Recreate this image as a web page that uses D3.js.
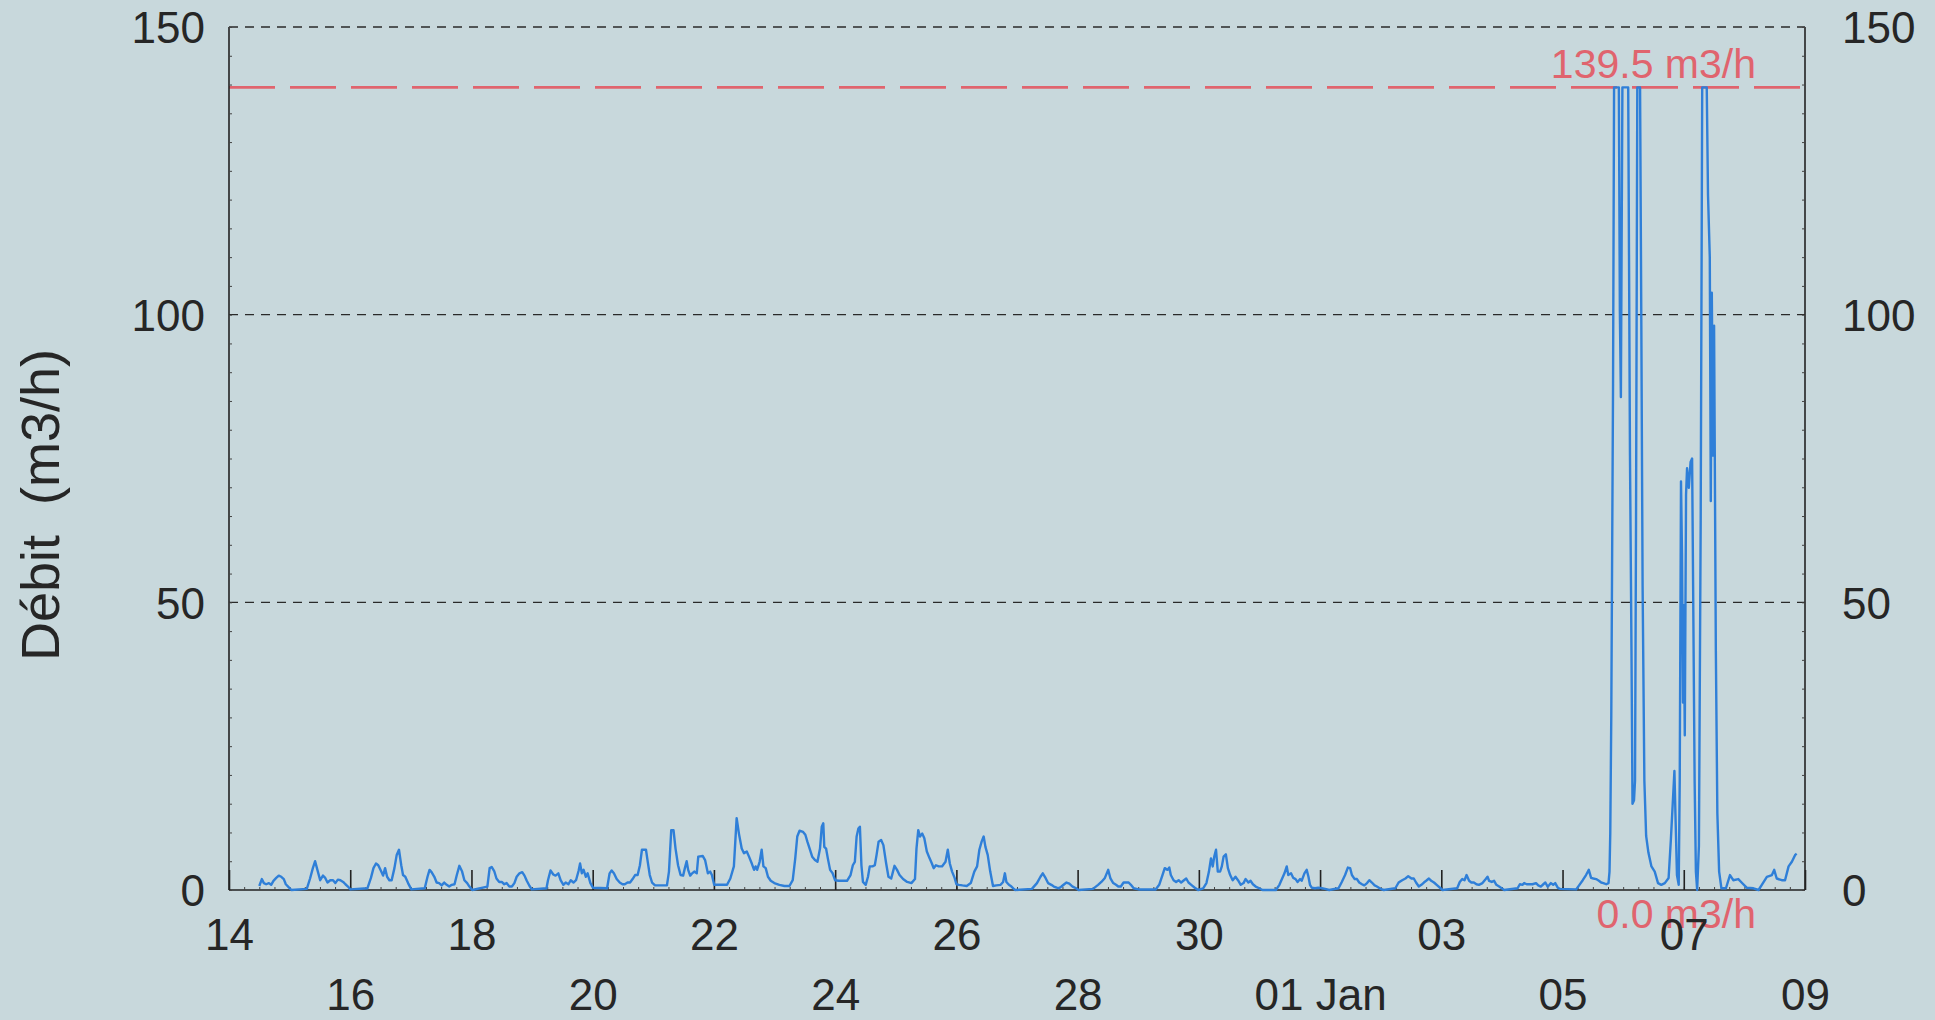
<!DOCTYPE html>
<html><head><meta charset="utf-8">
<script src="https://cdn.jsdelivr.net/npm/d3@7"></script>
<style>html,body{margin:0;padding:0;background:#c8d8dc;} svg{display:block;}</style>
</head><body><svg id="chart" width="1935" height="1020"></svg>
<script>
// ---------- DATA (hours since 14 Dec 00:00, flow in m3/h) ----------
const flowDec14to21 = [
[12.0,0.7],[13.0,1.9],[13.8,1.2],[14.7,1.0],[15.8,1.2],[16.7,0.9],[17.6,1.6],[18.7,2.1],[19.7,2.5],[20.7,2.3],[21.7,1.9],[22.5,1.0],[23.4,0.6],[24.7,0],
[30.8,0.2],[32.1,2.0],[33.2,3.8],[34.1,5.0],[35.0,3.5],[36.1,1.7],[37.2,2.5],[38.1,2.1],[39.0,1.3],[40.1,1.7],[41.2,1.7],[42.1,1.2],[43.1,1.8],[44.1,1.7],[45.2,1.4],[46.1,1.0],[47.1,0.6],[48.1,0.1],
[54.8,0.3],[56.2,2.1],[57.2,3.8],[58.2,4.6],[59.1,4.3],[60.2,3.3],[61.0,2.5],[61.8,3.8],[62.6,2.3],[63.5,1.7],[64.4,1.7],[65.5,3.8],[66.4,6.1],[67.3,7.0],[68.2,4.3],[68.9,2.6],[69.8,2.3],[70.9,1.2],[72.2,0.1],
[77.5,0.3],[78.6,2.3],[79.4,3.5],[80.2,3.1],[81.3,2.3],[82.2,1.3],[83.2,1.2],[84.2,0.8],[85.2,1.3],[86.2,0.9],[87.2,0.6],[88.2,0.9],[89.3,1.0],[90.2,2.6],[91.2,4.2],[92.3,3.2],[93.2,1.7],[94.3,1.2],[95.2,0.6],[96.3,0],
[102.3,0.6],[103.2,3.8],[104.0,4.0],[105.0,3.3],[105.9,2.0],[107.0,1.4],[108.0,1.4],[109.0,1.0],[109.9,1.2],[111.0,0.6],[112.0,0.6],[113.0,1.2],[113.9,2.3],[115.0,2.9],[116.1,3.1],[117.0,2.5],[117.9,1.6],[119.0,0.7],[119.9,0.1],
[125.7,0.3],[126.3,1.7],[127.3,3.4],[128.4,2.7],[129.3,2.5],[130.4,2.9],[131.3,1.7],[132.4,0.9],[133.3,1.3],[134.4,1.0],[135.3,1.7],[136.4,1.3],[137.4,1.7],[138.4,3.3],[139.0,4.6],[139.7,2.9],[140.4,3.5],[141.3,2.3],[142.0,2.9],[143.1,1.2],[144.1,0.4],
[149.7,0.3],[150.7,2.9],[151.5,3.4],[152.4,2.9],[153.5,1.9],[154.7,1.3],[155.8,1.0],[156.7,1.0],[157.8,1.3],[158.8,1.3],[159.8,1.9],[160.8,2.6],[161.8,2.6],[162.7,4.3],[163.5,7.0],[165.1,7.0],[165.8,4.9],[166.6,2.6],[167.5,1.3],[168.7,0.8],[171.8,0.8],[173.4,0.8],[174.2,3.2],[175.1,10.4],[176.0,10.4],[176.8,7.2],[177.8,4.3],[178.8,2.6],[179.8,2.5],[180.5,3.8],[181.2,5.0],[181.8,3.5],[182.6,2.5],[183.4,2.9],[184.2,3.2],[185.2,2.9],[185.8,5.8],[187.6,5.9],[188.5,5.2],[189.6,2.9],[190.5,3.2],[191.2,2.6],[192.1,0.9],[195.2,0.9]
];
const flowDec22to31 = [
[197.2,0.9],[198.5,2.0],[199.9,4.1],[201.0,12.5],[201.9,9.8],[203.0,7.2],[203.9,6.4],[205.0,6.7],[205.9,5.8],[207.0,4.6],[207.9,3.5],[208.5,4.1],[209.1,3.5],[210.1,4.9],[210.9,7.0],[211.6,4.1],[212.5,3.8],[213.4,2.3],[214.5,1.6],[215.9,1.2],[217.9,0.9],[219.9,0.7],[221.9,0.7],[223.2,1.7],[224.2,5.5],[225.0,9.3],[225.9,10.3],[227.3,10.1],[228.2,9.6],[229.0,8.4],[229.9,7.2],[230.9,5.8],[232.0,5.2],[233.0,4.9],[234.0,7.2],[234.7,11.0],[235.3,11.6],[235.7,7.5],[236.4,7.2],[237.1,5.5],[238.0,3.5],[239.0,2.9],[240.0,1.7],[241.4,1.6],[243.4,1.6],[244.7,1.6],[246.1,2.6],[247.0,4.3],[247.8,4.9],[248.5,9.3],[249.2,10.7],[249.8,11.0],[250.4,4.3],[251.0,1.4],[252.1,0.9],[253.0,2.3],[253.7,4.1],[254.8,4.1],[255.7,4.3],[256.4,6.1],[257.2,8.4],[258.2,8.7],[259.1,7.8],[260.2,4.6],[261.1,2.3],[262.2,2.0],[262.9,3.2],[263.5,4.2],[264.5,3.5],[265.5,2.6],[266.9,1.9],[268.5,1.4],[270.2,1.2],[271.6,1.9],[272.2,7.2],[272.9,10.4],[273.6,9.3],[274.5,9.8],[275.3,9.0],[276.3,6.7],[277.4,5.5],[278.3,4.6],[279.0,3.8],[279.9,4.3],[281.0,4.1],[282.3,4.1],[283.7,4.9],[284.6,7.0],[285.4,4.6],[286.3,3.2],[287.3,2.1],[288.0,1.0],[289.0,0.9],[290.4,0.8],[292.1,0.7],[293.7,1.2],[295.1,3.2],[296.2,4.1],[297.1,7.0],[298.0,8.4],[298.8,9.3],[299.5,7.5],[300.4,6.1],[301.4,3.2],[302.5,0.7],[303.8,0.8],[305.5,0.9],[306.5,1.4],[307.2,2.9],[307.8,1.4],[308.8,0.9],[309.8,0.6],[311.2,0],
[317.9,0.2],[319.9,1.2],[321.3,2.3],[322.2,2.9],[323.3,2.1],[324.3,1.2],[325.6,0.9],[326.6,0.6],[327.7,0.4],[328.6,0.3],[329.6,0.6],[330.7,1.0],[331.6,1.3],[332.7,1.1],[334.0,0.6],[335.4,0.3],[336.4,0],
[342.1,0.2],[344.1,0.9],[345.4,1.4],[346.8,2.1],[348.1,3.5],[349.0,2.0],[350.1,1.2],[351.2,0.9],[352.1,0.6],[353.1,0.6],[354.2,1.3],[355.1,1.3],[356.2,1.3],[357.1,0.9],[358.2,0.3],[360.2,0.1],
[366.9,0.1],[368.3,0.9],[369.6,2.6],[370.5,3.8],[371.6,3.5],[372.3,3.9],[372.9,2.6],[374.0,1.7],[375.0,1.4],[376.0,1.7],[377.0,1.3],[378.1,1.7],[379.0,2.0],[379.9,1.3],[381.0,0.9],[382.4,0.4],[383.7,0],
[385.7,0.3],[387.0,1.2],[388.0,3.2],[388.8,5.5],[389.5,4.1],[390.1,5.8],[390.8,7.0],[391.5,3.2],[392.4,3.2],[393.1,4.1],[393.8,5.8],[394.7,6.2],[395.5,3.8],[396.4,2.6],[397.4,1.7],[398.5,2.3],[399.5,1.7],[400.6,0.9],[401.7,1.2],[402.5,1.9],[403.6,1.3],[404.5,1.6],[405.4,1.0],[406.5,0.6],[407.9,0.3],[409.2,0]
];
const flowJan01to05 = [
[414.5,0],[415.9,0.9],[417.9,2.9],[418.8,4.1],[419.4,2.6],[420.5,2.9],[421.4,2.1],[422.3,1.9],[423.1,1.4],[424.1,1.9],[424.7,1.6],[425.8,2.9],[426.7,3.5],[427.4,2.3],[428.0,0.9],[428.7,0.4],[430.0,0.3],[431.3,0.4],[432.7,0.3],[434.0,0.2],[435.6,0],
[439.3,0.3],[440.6,1.4],[441.9,2.6],[443.0,3.9],[443.9,3.8],[444.6,2.6],[445.7,1.9],[446.6,1.9],[447.5,1.3],[448.6,1.0],[449.5,0.8],[450.6,1.2],[451.5,1.7],[452.5,1.3],[453.6,0.8],[454.5,0.6],[455.9,0.2],[457.2,0],
[461.8,0.3],[463.1,1.3],[464.5,1.7],[465.8,2.0],[466.9,2.4],[468.2,2.0],[469.1,2.0],[470.0,1.3],[471.1,0.6],[472.1,0.9],[473.1,1.3],[474.0,1.6],[475.1,2.0],[476.0,1.6],[477.1,1.3],[478.4,0.8],[479.7,0.3],[480.5,0],
[486.3,0.3],[487.3,1.4],[488.3,1.9],[489.2,1.7],[490.0,2.6],[491.0,1.6],[491.9,1.3],[492.9,1.3],[493.9,1.0],[494.9,0.9],[496.3,1.2],[497.6,1.9],[498.3,2.3],[498.9,1.6],[500.0,1.4],[500.9,1.6],[501.8,0.9],[502.9,0.6],[503.9,0.3],[504.9,0],
[510.2,0.3],[511.1,1.0],[512.2,0.9],[512.8,1.2],[513.8,1.0],[514.8,1.0],[516.1,1.0],[517.5,1.2],[518.4,0.8],[519.4,0.6],[520.4,1.0],[521.2,1.3],[522.1,0.6],[522.8,0.9],[523.4,1.2],[524.3,0.9],[525.1,1.2],[526.1,0.4],[527.0,0.2],
[533.4,0.1],[534.7,0.9],[536.0,1.7],[537.3,2.6],[538.4,3.5],[539.3,2.1],[540.2,2.0],[541.3,1.9],[542.4,1.6],[543.3,1.3],[544.2,1.2],[545.3,1.0],[546.2,1.2]
];
const flowJan05to08 = [
[546.6,3.2],[546.9,9.9],[547.3,30.3],[548.0,88.0],[548.4,139.5],[549.3,139.5],[550.3,139.5],[550.7,100.4],[551.1,85.7],[551.7,139.5],[552.3,139.5],[553.3,139.5],[554.0,139.5],[554.7,75.5],[555.3,41.6],[555.7,15.0],[556.3,15.6],[556.7,19.0],[557.1,64.2],[557.6,139.5],[558.7,139.5],[559.2,98.1],[559.7,52.9],[560.4,19.0],[561.1,9.4],[562.0,6.5],[563.2,4.1],[564.5,3.2],[565.8,1.2],[567.1,0.9],[568.5,1.2],[570.0,2.1],[570.9,8.8],[571.7,15.6],[572.3,20.7],[572.7,13.3],[573.3,2.6],[574.0,0.9],[574.4,19.0],[574.9,71.0],[575.3,58.6],[575.7,32.6],[576.0,49.5],[576.4,26.9],[576.9,68.7],[577.3,73.3],[578.0,69.9],[578.7,74.4],[579.3,75.0],[579.7,52.9],[580.3,19.0],[580.8,3.2],[581.3,0],[582.0,7.7],[582.7,64.2],[583.3,139.5],[585.1,139.5],[585.6,120.8],[586.3,110.0],[586.7,67.6],[587.1,103.8],[587.6,75.5],[588.0,98.1],[588.7,41.6],[589.3,13.3],[590.0,3.2],[590.9,0.3],[592.7,0.3],[594.3,2.6],[595.6,1.7],[597.6,1.9],[598.9,1.3],[600.9,0.4],[603.6,0.3],[605.6,0],[606.9,0.9],[608.9,2.3],[610.9,2.6],[611.8,3.5],[612.8,2.0],[614.8,1.7],[616.1,1.7],[617.5,4.1],[618.8,4.9],[620.1,6.1],[620.7,6.3]
];
const maxFlow = 139.5;
const minFlow = 0.0;
const maxLabel = "139.5 m3/h";
const minLabel = "0.0 m3/h";
const yTicks = [0, 50, 100, 150];
const yGrid = [50, 100, 150];
const xTickDates = ["2019-12-14","2019-12-16","2019-12-18","2019-12-20","2019-12-22","2019-12-24","2019-12-26","2019-12-28","2019-12-30","2020-01-01","2020-01-03","2020-01-05","2020-01-07","2020-01-09"];
const xTickLabels = ["14","16","18","20","22","24","26","28","30","01 Jan","03","05","07","09"];
const yTitle = "Débit\u00a0\u00a0(m3/h)";

// ---------- CHART ----------
const W = 1935, H = 1020;
const font = "'Liberation Sans', Arial, Helvetica, sans-serif";
const ink = "#262626";
const red = "#e0646e";
const blue = "#2f7fd8";
const svg = d3.select("#chart");
svg.append("rect").attr("width", W).attr("height", H).attr("fill", "#c8d8dc");

const start = Date.UTC(2019, 11, 14);
const toDate = h => new Date(start + h * 3600000);
const x = d3.scaleUtc().domain([new Date(start), new Date(Date.UTC(2020, 0, 9))]).range([229, 1805]);
const y = d3.scaleLinear().domain([0, 150]).range([890, 27]);
const [x0, x1] = x.range();

// grid (dashed)
svg.append("g").selectAll("line").data(yGrid).join("line")
  .attr("x1", x0).attr("x2", x1).attr("y1", d => y(d)).attr("y2", d => y(d))
  .attr("stroke", "#2a2a2a").attr("stroke-width", 1.3).attr("stroke-dasharray", "9,7");

// threshold line
svg.append("line").attr("x1", x0).attr("x2", x1).attr("y1", y(maxFlow)).attr("y2", y(maxFlow))
  .attr("stroke", red).attr("stroke-width", 2.6).attr("stroke-dasharray", "46,15");

// red labels
svg.append("text").attr("x", 1756).attr("y", y(maxFlow) - 9).attr("text-anchor", "end")
  .attr("font-family", font).attr("font-size", 41).attr("fill", red).text(maxLabel);
svg.append("text").attr("x", 1756).attr("y", y(minFlow) + 38).attr("text-anchor", "end")
  .attr("font-family", font).attr("font-size", 41).attr("fill", red).text(minLabel);

// frame
const frame = svg.append("g").attr("stroke", "#222").attr("stroke-width", 1.6);
frame.append("line").attr("x1", x0).attr("x2", x0).attr("y1", y(150)).attr("y2", y(0));
frame.append("line").attr("x1", x1).attr("x2", x1).attr("y1", y(150)).attr("y2", y(0));
frame.append("line").attr("x1", x0).attr("x2", x1).attr("y1", y(0)).attr("y2", y(0));

// minor ticks
const minorX = d3.axisBottom(x).ticks(d3.utcHour.every(6)).tickSize(-3).tickFormat("");
const gmx = svg.append("g").attr("transform", `translate(0,${y(0)})`).call(minorX);
gmx.select(".domain").remove();
gmx.selectAll("line").attr("stroke", "#444").attr("stroke-width", 1);
const minorY = d3.range(0, 151, 5);
const gml = svg.append("g").attr("transform", `translate(${x0},0)`).call(d3.axisLeft(y).tickValues(minorY).tickSize(-3).tickFormat(""));
gml.select(".domain").remove(); gml.selectAll("line").attr("stroke", "#444");
const gmr = svg.append("g").attr("transform", `translate(${x1},0)`).call(d3.axisRight(y).tickValues(minorY).tickSize(-3).tickFormat(""));
gmr.select(".domain").remove(); gmr.selectAll("line").attr("stroke", "#444");

// x axis
const tickDates = xTickDates.map(s => new Date(s + "T00:00:00Z"));
const gx = svg.append("g").attr("transform", `translate(0,${y(0)})`)
  .call(d3.axisBottom(x).tickValues(tickDates).tickSize(-20).tickFormat((d, i) => xTickLabels[i]));
gx.select(".domain").remove();
gx.selectAll(".tick line").attr("stroke", "#222").attr("stroke-width", 1.6);
gx.selectAll(".tick text").attr("y", (d, i) => i % 2 === 0 ? 60 : 120).attr("dy", 0)
  .attr("font-size", 44).attr("font-family", font).attr("fill", ink);

// y axes labels
const gyl = svg.append("g").attr("transform", `translate(${x0},0)`)
  .call(d3.axisLeft(y).tickValues(yTicks).tickSize(0).tickPadding(24));
gyl.select(".domain").remove();
gyl.selectAll("text").attr("font-size", 44).attr("font-family", font).attr("fill", ink).attr("dy", "0.36em");
const gyr = svg.append("g").attr("transform", `translate(${x1},0)`)
  .call(d3.axisRight(y).tickValues(yTicks).tickSize(0).tickPadding(37));
gyr.select(".domain").remove();
gyr.selectAll("text").attr("font-size", 44).attr("font-family", font).attr("fill", ink).attr("dy", "0.36em");

// y title
svg.append("text").attr("transform", "translate(59,505) rotate(-90)").attr("text-anchor", "middle")
  .attr("font-family", font).attr("font-size", 54).attr("fill", ink).text(yTitle);

// series
const series = [].concat(flowDec14to21, flowDec22to31, flowJan01to05, flowJan05to08);
const line = d3.line().x(d => x(toDate(d[0]))).y(d => y(d[1]));
svg.append("path").datum(series).attr("d", line).attr("fill", "none")
  .attr("stroke", blue).attr("stroke-width", 2.4).attr("stroke-linejoin", "round");
</script></body></html>
